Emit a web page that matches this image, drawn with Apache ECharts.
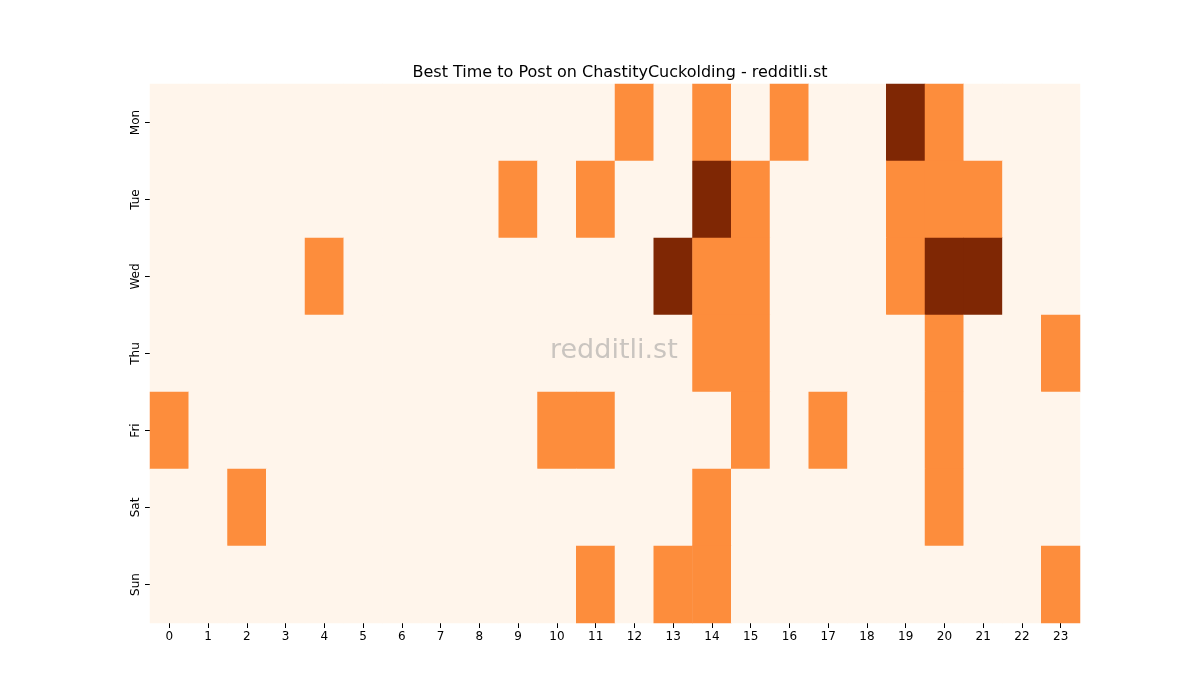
<!DOCTYPE html>
<html><head><meta charset="utf-8">
<script src="https://cdn.jsdelivr.net/npm/echarts@6/dist/echarts.min.js"></script>
<style>html,body{margin:0;background:#fff}#c{width:1200px;height:700px}</style>
</head><body><div id="c"></div>
<script>
const hours = ['0','1','2','3','4','5','6','7','8','9','10','11','12','13','14','15','16','17','18','19','20','21','22','23'];
const days = ['Mon','Tue','Wed','Thu','Fri','Sat','Sun'];
// level per day: [hour, level]
const mon = [[12,1],[14,1],[16,1],[19,2],[20,1]];
const tue = [[9,1],[11,1],[14,2],[15,1],[19,1],[20,1],[21,1]];
const wed = [[4,1],[13,2],[14,1],[15,1],[19,1],[20,2],[21,2]];
const thu = [[14,1],[15,1],[20,1],[23,1]];
const fri = [[0,1],[10,1],[11,1],[15,1],[17,1],[20,1]];
const sat = [[2,1],[14,1],[20,1]];
const sun = [[11,1],[13,1],[14,1],[23,1]];
const rows = [mon,tue,wed,thu,fri,sat,sun];
const data = [];
rows.forEach((r,d)=>{
  const m = {}; r.forEach(([h,v])=>m[h]=v);
  for(let h=0;h<24;h++) data.push([h,d,m[h]||0]);
});
const chart = echarts.init(document.getElementById('c'));
chart.setOption({
  animation:false,
  title:{text:'Best Time to Post on ChastityCuckolding - redditli.st',left:615,top:60,textAlign:'center',
    textStyle:{fontFamily:'DejaVu Sans',fontSize:16,fontWeight:'normal',color:'#000'}},
  grid:{left:150,right:120,top:84,bottom:77},
  xAxis:{type:'category',data:hours,axisLine:{show:false},axisTick:{show:true,alignWithLabel:true,lineStyle:{color:'#000'}},
    axisLabel:{color:'#000',fontFamily:'DejaVu Sans',fontSize:12},splitArea:{show:false}},
  yAxis:{type:'category',data:days,inverse:true,axisLine:{show:false},axisTick:{show:true,alignWithLabel:true,lineStyle:{color:'#000'}},
    axisLabel:{color:'#000',rotate:90,fontFamily:'DejaVu Sans',fontSize:12}},
  visualMap:{show:false,type:'piecewise',dimension:2,pieces:[{value:0,color:'#fff5eb'},{value:1,color:'#fd8d3c'},{value:2,color:'#7f2704'}]},
  graphic:[{type:'text',left:550,top:337,z:100,style:{text:'redditli.st',fontSize:27,fontFamily:'DejaVu Sans',fill:'rgba(150,150,150,0.5)'}}],
  series:[{type:'heatmap',data:data,itemStyle:{borderWidth:0}}]
});
</script></body></html>
